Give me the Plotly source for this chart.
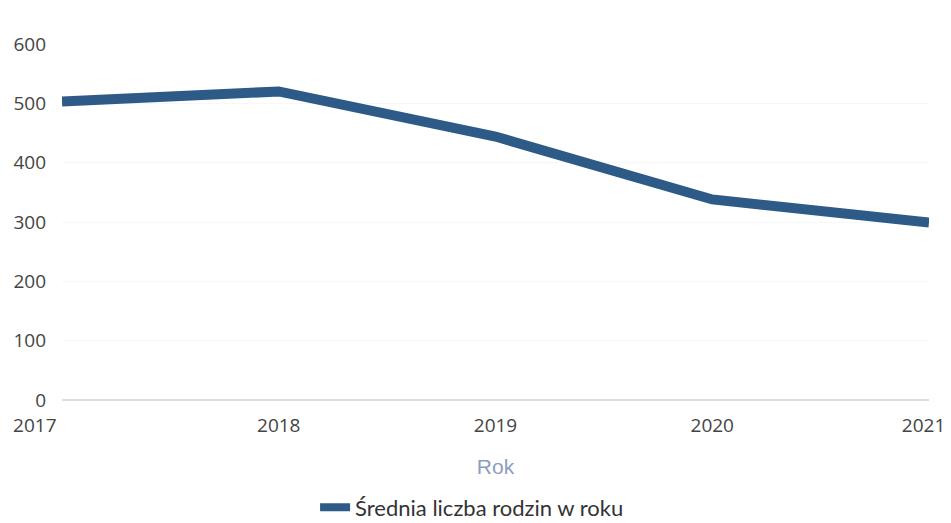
import plotly.graph_objects as go

years = [2017, 2018, 2019, 2020, 2021]
values = [503, 520, 444, 338, 299]
series_name = "Średnia liczba rodzin w roku"
y_ticks = [0, 100, 200, 300, 400, 500, 600]
x_tick_labels = ["2017\u2007\u2007\u2007\u2007\u2007", "2018", "2019", "2020", "2021\u2007"]

color = "#2d5a87"

fig = go.Figure()
fig.add_trace(go.Scatter(
    x=years, y=values, mode="lines",
    line=dict(color=color, width=10),
    showlegend=False, hoverinfo="x+y",
))
fig.add_trace(go.Scatter(
    x=[None], y=[None], mode="lines",
    line=dict(color=color, width=8),
    name=series_name, showlegend=True,
))

fig.update_layout(
    width=943, height=515,
    margin=dict(l=54, r=22, t=36, b=123, autoexpand=False),
    paper_bgcolor="white", plot_bgcolor="white",
    font=dict(family="Open Sans, sans-serif", size=19, color="#444444"),
    xaxis=dict(
        range=[2017, 2021], tickvals=years, ticktext=x_tick_labels,
        showgrid=False, zeroline=False, showline=False,
        ticks="", ticklen=0, ticklabelstandoff=12,
        ticklabeloverflow="allow",
        title=dict(text="Rok", font=dict(color="#8c9dbf", size=21, family="Liberation Sans, Arial, sans-serif"), standoff=22),
        automargin=False,
    ),
    yaxis=dict(
        range=[0, 600], tickvals=y_ticks,
        showgrid=True, gridcolor="#f7f7f9", gridwidth=1,
        zeroline=True, zerolinecolor="#dcdde6", zerolinewidth=2,
        showline=False, ticks="", ticklabelstandoff=15,
        automargin=False,
    ),
    legend=dict(
        orientation="h", x=0.473, xanchor="center",
        yref="container", y=0.03, yanchor="middle",
        font=dict(family="Lato, sans-serif", size=22, color="#333333"),
        itemwidth=30,
    ),
)
fig.write_html("out.html")
